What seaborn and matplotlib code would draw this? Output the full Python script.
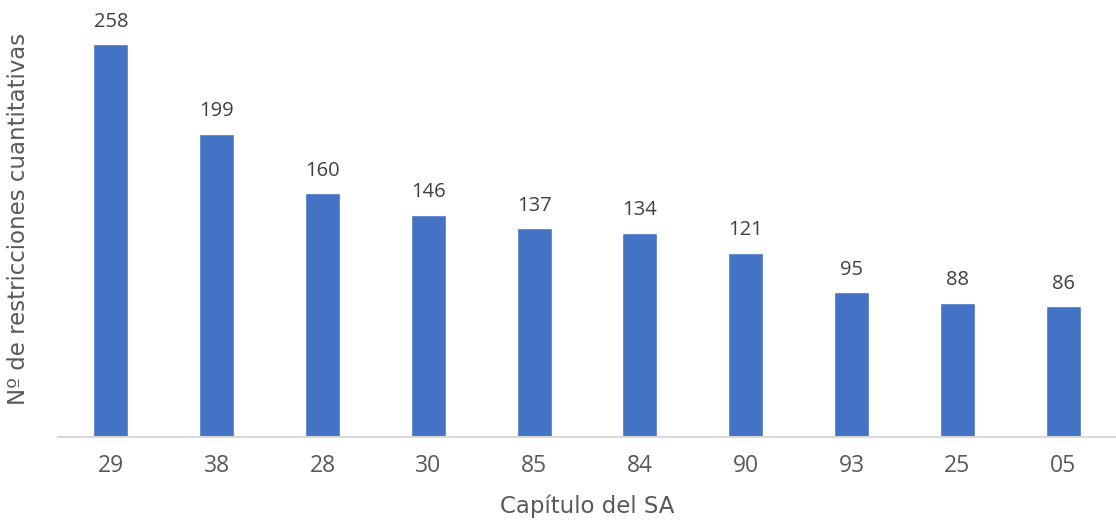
import matplotlib
matplotlib.use("Agg")
import matplotlib.pyplot as plt
import seaborn as sns
import pandas as pd

categories = ["29", "38", "28", "30", "85", "84", "90", "93", "25", "05"]
values = [258, 199, 160, 146, 137, 134, 121, 95, 88, 86]

sns.set_theme(style="white")
plt.rcParams["font.family"] = ["DejaVu Sans"]

df = pd.DataFrame({"cap": categories, "n": values})

fig = plt.figure(figsize=(11.16, 5.23), dpi=100)
ax = fig.add_axes([58/1116, (523-437)/523, 1058/1116, 437/523])
sns.barplot(data=df, x="cap", y="n", color="#4472C4", width=0.33, saturation=1, ax=ax, order=categories)
ax.set_ylim(0, 437/1.523)
ax.set_xlim(-0.5, len(categories)-0.5)

for i, v in enumerate(values):
    ax.annotate(str(v), (i, v), xytext=(0, 9), textcoords="offset points", ha="center", va="bottom",
                fontsize=14.5, color="#404040", family="Open Sans")

for s in ["top", "right", "left"]:
    ax.spines[s].set_visible(False)
ax.spines["bottom"].set_color("#D9D9D9")
ax.spines["bottom"].set_linewidth(1.5)
ax.set_yticks([])
ax.tick_params(axis="x", length=0, pad=12, labelsize=16.5, labelcolor="#595959")
for t in ax.get_xticklabels():
    t.set_family("Open Sans")
ax.set_xlabel("Capítulo del SA", fontsize=16.5, color="#595959")
ax.xaxis.set_label_coords(0.5, -(495 - 437) / 437)
ax.xaxis.label.set_va("top")
ax.set_ylabel("Nº de restricciones cuantitativas", fontsize=16.5, color="#595959")
ax.yaxis.set_label_coords(-28/1058, 0.5)
fig.savefig("out.png", dpi=100)
